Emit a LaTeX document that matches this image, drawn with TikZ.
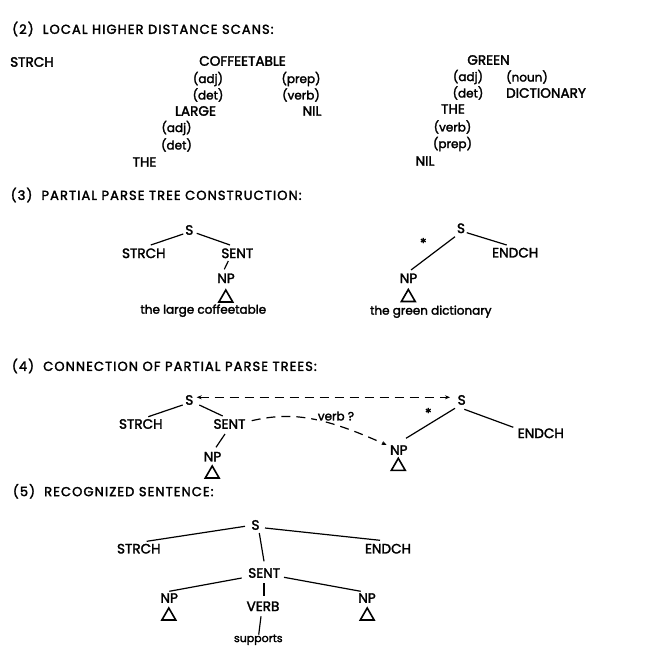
\documentclass[tikz,border=0pt]{standalone}
\usepackage{fontspec}
\setmainfont{Poppins}[FakeBold=2.2]
\usetikzlibrary{arrows.meta,shapes.geometric}
\begin{document}
\begin{tikzpicture}[x=1pt,y=-1pt,
  lab/.style={inner sep=0pt, font=\fontsize{13.6}{15}\selectfont},
  sm/.style={inner sep=0pt, font=\fontsize{12}{14}\selectfont},
  tiny/.style={inner sep=0pt, font=\fontsize{11}{13}\selectfont},
  head/.style={inner sep=0pt, anchor=west, font=\fontsize{13}{15}\selectfont\addfontfeature{LetterSpace=8.5}},
  tri/.style={draw, regular polygon, regular polygon sides=3, minimum size=16pt, inner sep=0pt, line width=1.6pt},
  edge/.style={line width=1.2pt},
  dsh/.style={line width=1.2pt, dash pattern=on 9pt off 6pt},
  tip/.style={-{Stealth[length=5pt,width=4pt]}}
]
\fill[white] (0,0) rectangle (655,663);
\useasboundingbox (0,0) rectangle (655,663);

% ---------- (2) ----------
\node[head] (h2) at (12,29) {(2)~ LOCAL HIGHER DISTANCE SCANS:};
\node[lab,anchor=west] (a-strch) at (10,62) {STRCH};
\node[lab] (a-coffee) at (242.5,61) {COFFEETABLE};
\node[sm] (a-adj1) at (208,79) {(adj)};
\node[sm] (a-prep1) at (301,79) {(prep)};
\node[sm] (a-det1) at (208,95) {(det)};
\node[sm] (a-verb1) at (301,95) {(verb)};
\node[lab] (a-large) at (195.5,111) {LARGE};
\node[lab] (a-nil1) at (312,111) {NIL};
\node[sm] (a-adj2) at (176.5,128) {(adj)};
\node[sm] (a-det2) at (176.5,145) {(det)};
\node[lab] (a-the1) at (144.5,162) {THE};
\node[lab] (a-green) at (488.5,60) {GREEN};
\node[sm] (a-adj3) at (468,77) {(adj)};
\node[sm] (a-noun) at (527,77) {(noun)};
\node[sm] (a-det3) at (468,93) {(det)};
\node[lab] (a-dict) at (546,93) {DICTIONARY};
\node[lab] (a-the2) at (453,109) {THE};
\node[sm] (a-verb2) at (452.5,127) {(verb)};
\node[sm] (a-prep2) at (452.5,144) {(prep)};
\node[lab] (a-nil2) at (425,161) {NIL};

% ---------- (3) ----------
\node[head] (h3) at (10.5,195) {(3)~ PARTIAL PARSE TREE CONSTRUCTION:};
\node[lab] (b-s1) at (189.3,230) {S};
\node[lab] (b-strch) at (143.8,253.3) {STRCH};
\node[lab] (b-sent) at (237.3,253.3) {SENT};
\node[lab] (b-np1) at (226,278.3) {NP};
\node[tri] (b-t1) at (225.8,298) {};
\node[sm] (b-w1) at (203.3,310.7) {the large coffeetable};
\node[lab] (b-s2) at (461,228.3) {S};
\node[lab] (b-star) at (423.3,243) {*};
\node[lab] (b-endch) at (515.2,252.7) {ENDCH};
\node[lab] (b-np2) at (408.5,278.3) {NP};
\node[tri] (b-t2) at (408.3,297.5) {};
\node[sm] (b-w2) at (430.8,311.7) {the green dictionary};
\draw[edge] ([shift={(-6,4)}]b-s1.center) -- ([shift={(7,-8.3)}]b-strch.center);
\draw[edge] ([shift={(7.4,3.3)}]b-s1.center) -- ([shift={(-7.3,-8.3)}]b-sent.center);
\draw[edge] ([shift={(-9,7.7)}]b-sent.center) -- ([shift={(-1.7,-9)}]b-np1.center);
\draw[edge] ([shift={(-6,8.4)}]b-s2.center) -- ([shift={(2.5,-8.3)}]b-np2.center);
\draw[edge] ([shift={(5.7,4.4)}]b-s2.center) -- ([shift={(-8.5,-7.7)}]b-endch.center);

% ---------- (4) ----------
\node[head] (h4) at (11.7,366) {(4)~ CONNECTION OF PARTIAL PARSE TREES:};
\node[lab] (c-s1) at (189.3,400) {S};
\node[lab] (c-strch) at (140.8,424) {STRCH};
\node[lab] (c-sent) at (229.5,424) {SENT};
\node[lab] (c-np1) at (212.5,456.7) {NP};
\node[tri] (c-t1) at (212.2,474) {};
\node[lab] (c-s2) at (461.7,400) {S};
\node[lab] (c-star) at (428.3,413) {*};
\node[lab] (c-endch) at (540.8,433.3) {ENDCH};
\node[lab] (c-np2) at (398.8,450) {NP};
\node[tri] (c-t2) at (398.3,466.3) {};
\draw[edge] ([shift={(-6.6,5)}]c-s1.center) -- ([shift={(7.5,-7.3)}]c-strch.center);
\draw[edge] ([shift={(10,5)}]c-s1.center) -- ([shift={(-6.8,-8)}]c-sent.center);
\draw[edge] ([shift={(-4.5,10)}]c-sent.center) -- ([shift={(3.5,-9.4)}]c-np1.center);
\draw[edge] ([shift={(-6.7,8.3)}]c-s2.center) -- ([shift={(7.2,-11.7)}]c-np2.center);
\draw[edge] ([shift={(2.6,9.3)}]c-s2.center) -- ([shift={(-27.5,-6)}]c-endch.center);
\draw[dsh,{Stealth[length=5pt,width=4pt]}-{Stealth[length=5pt,width=4pt]}]
  ([shift={(7.4,-2.7)}]c-s1.center) -- ([shift={(-11.7,-2.7)}]c-s2.center);
\draw[dsh,tip] ([shift={(22.2,-3.3)}]c-sent.center)
  .. controls (290,412) and (320,415) .. ([shift={(-12.1,-5)}]c-np2.center);
\node[sm, fill=white, inner sep=1pt] (c-verb) at (336,416) {verb ?};

% ---------- (5) ----------
\node[head] (h5) at (12.7,491.3) {(5)~ RECOGNIZED SENTENCE:};
\node[lab] (d-s) at (255.5,525) {S};
\node[lab] (d-strch) at (138.8,548.7) {STRCH};
\node[lab] (d-endch) at (388,548.7) {ENDCH};
\node[lab] (d-sent) at (264.2,573) {SENT};
\node[lab] (d-np1) at (169.2,598) {NP};
\node[tri] (d-t1) at (168.8,616) {};
\node[lab] (d-verb) at (263,606.3) {VERB};
\node[lab] (d-np2) at (367,598) {NP};
\node[tri] (d-t2) at (367.2,616) {};
\node[tiny] (d-sup) at (258.3,639.7) {supports};
\draw[edge] ([shift={(-10.5,1.3)}]d-s.center) -- ([shift={(7.9,-7.4)}]d-strch.center);
\draw[edge] ([shift={(9.5,3)}]d-s.center) -- ([shift={(-8,-8.4)}]d-endch.center);
\draw[edge] ([shift={(3.8,8)}]d-s.center) -- ([shift={(-0.2,-11.7)}]d-sent.center);
\draw[edge] ([shift={(-22.5,5)}]d-sent.center) -- ([shift={(0.1,-6.7)}]d-np1.center);
\draw[edge] ([shift={(19.8,4.3)}]d-sent.center) -- ([shift={(-6.3,-6.7)}]d-np2.center);
\draw[edge] ([shift={(-0.2,10)}]d-sent.center) -- ([shift={(1,-10)}]d-verb.center);
\draw[edge] ([shift={(-2,10)}]d-verb.center) -- ([shift={(0.4,-5)}]d-sup.center);
\end{tikzpicture}
\end{document}
